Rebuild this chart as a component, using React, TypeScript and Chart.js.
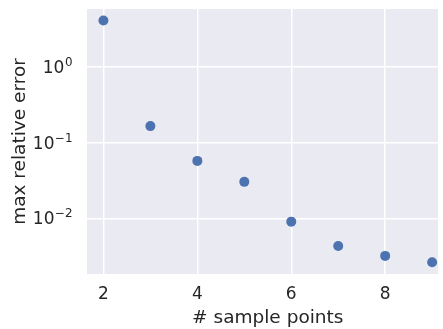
import React, { useEffect, useRef } from "react";
import { Chart, registerables } from "chart.js";

Chart.register(...registerables);

// Number of sample points vs. the maximum relative error observed
const samplePoints = [2, 3, 4, 5, 6, 7, 8, 9];
const maxRelativeError = [4.09, 0.165, 0.0573, 0.0303, 0.00904, 0.00432, 0.00319, 0.00263];

const xTicks = [2, 4, 6, 8];
const yTicks = [1, 0.1, 0.01];
const yTickExponents = ["0", "−1", "−2"];

const X_TITLE = "# sample points";
// full x extent of the panel; the canvas cuts it off just after 9.1
const X_FULL_MIN = 1.65;
const X_FULL_MAX = 9.35;

const FONT = "'DejaVu Sans', sans-serif";
const TEXT = "#262626";
const TICK_SIZE = 17;
const TITLE_SIZE = 18.5;

const panelBackground = {
  id: "panelBackground",
  beforeDraw(chart: Chart) {
    const { ctx, chartArea } = chart;
    ctx.save();
    ctx.fillStyle = "#EAEAF2";
    ctx.fillRect(chartArea.left, chartArea.top, chartArea.right - chartArea.left, chartArea.bottom - chartArea.top);
    ctx.restore();
  },
};

// Power-of-ten labels with a raised, smaller exponent, and the x title
// centred under the whole panel
const axisText = {
  id: "axisText",
  afterDraw(chart: Chart) {
    const { ctx, chartArea } = chart;
    const yScale: any = chart.scales.y;
    const xScale: any = chart.scales.x;
    const right = chartArea.left - 15;
    ctx.save();
    ctx.fillStyle = TEXT;
    ctx.textBaseline = "alphabetic";
    ctx.textAlign = "left";
    yTicks.forEach((v, i) => {
      const y = yScale.getPixelForValue(v);
      ctx.font = `${TICK_SIZE * 0.7}px ${FONT}`;
      const expW = ctx.measureText(yTickExponents[i]).width;
      ctx.font = `${TICK_SIZE}px ${FONT}`;
      const baseW = ctx.measureText("10").width;
      const x0 = right - expW - baseW;
      ctx.fillText("10", x0, y + 6);
      ctx.font = `${TICK_SIZE * 0.7}px ${FONT}`;
      ctx.fillText(yTickExponents[i], x0 + baseW + 0.5, y - 1);
    });

    ctx.font = `${TITLE_SIZE}px ${FONT}`;
    ctx.textAlign = "center";
    ctx.textBaseline = "middle";
    const cx = xScale.getPixelForValue((X_FULL_MIN + X_FULL_MAX) / 2);
    ctx.fillText(X_TITLE, cx, xScale.bottom - TITLE_SIZE * 0.6);
    ctx.restore();
  },
};

export default function App() {
  const canvasRef = useRef<HTMLCanvasElement | null>(null);

  useEffect(() => {
    if (!canvasRef.current) return;
    const chart = new Chart(canvasRef.current, {
      type: "scatter",
      data: {
        datasets: [
          {
            data: samplePoints.map((x, i) => ({ x, y: maxRelativeError[i] })),
            backgroundColor: "#4C72B0",
            borderColor: "#4C72B0",
            pointRadius: 5,
            pointHoverRadius: 5,
            borderWidth: 0,
          },
        ],
      },
      options: {
        animation: false,
        responsive: false,
        maintainAspectRatio: false,
        layout: { padding: { top: 9, right: 0, left: 0, bottom: 0 } },
        plugins: {
          legend: { display: false },
          tooltip: { enabled: false },
        },
        scales: {
          x: {
            type: "linear",
            min: X_FULL_MIN,
            max: 9.125,
            afterBuildTicks(scale: any) {
              scale.ticks = xTicks.map((v) => ({ value: v }));
            },
            afterFit(scale: any) {
              scale.height = 55;
              scale.paddingLeft = 0;
              scale.paddingRight = 0;
            },
            grid: { color: "#FFFFFF", lineWidth: 1.5, drawTicks: false },
            border: { display: false },
            ticks: {
              color: TEXT,
              font: { family: FONT, size: TICK_SIZE },
              padding: 10,
              callback: (v: any) => String(v),
            },
            title: { display: false },
          },
          y: {
            type: "logarithmic",
            min: 0.00184,
            max: 5.8,
            afterBuildTicks(scale: any) {
              scale.ticks = yTicks.map((v) => ({ value: v }));
            },
            afterFit(scale: any) {
              scale.width = 87;
              scale.paddingTop = 0;
              scale.paddingBottom = 0;
            },
            grid: { color: "#FFFFFF", lineWidth: 1.5, drawTicks: false },
            border: { display: false },
            ticks: {
              color: "rgba(0,0,0,0)",
              font: { family: FONT, size: TICK_SIZE },
              padding: 15,
              callback: (_v: any, i: number) => "10" + yTickExponents[i],
            },
            title: {
              display: true,
              text: "max relative error",
              color: TEXT,
              font: { family: FONT, size: TITLE_SIZE },
              padding: { top: 9, bottom: 0 },
            },
          },
        },
      },
      plugins: [panelBackground, axisText],
    });
    return () => chart.destroy();
  }, []);

  return (
    <div style={{ position: "absolute", left: 0, top: 0, width: 443, height: 329, background: "#FFFFFF" }}>
      <canvas ref={canvasRef} width={443} height={329} style={{ display: "block" }} />
    </div>
  );
}
